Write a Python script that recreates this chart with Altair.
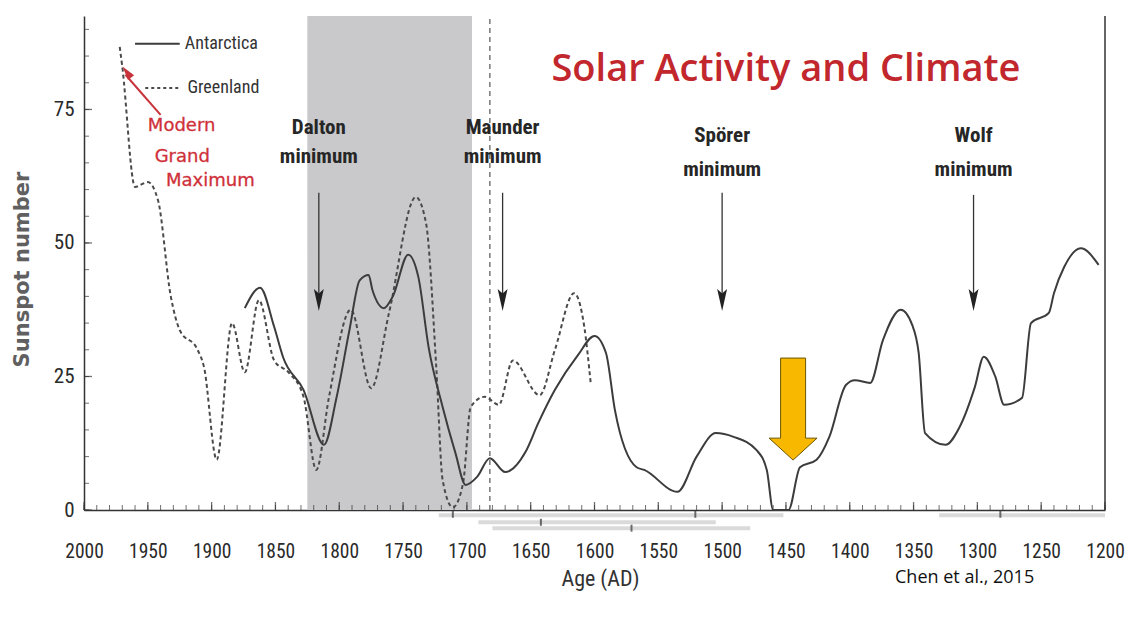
import altair as alt
import pandas as pd

# ---------------- data ----------------
ant_year = [1874, 1862, 1851, 1844, 1828, 1812, 1802, 1792, 1784, 1777, 1774, 1765, 1758, 1746, 1738,
            1730, 1719, 1709, 1701, 1692, 1682, 1670, 1654, 1644, 1631, 1613, 1600, 1591, 1584, 1567,
            1561, 1535, 1520, 1505, 1491, 1473, 1465, 1460, 1448, 1439, 1426, 1416, 1403, 1396, 1384,
            1374, 1360, 1351, 1346, 1341, 1325, 1314, 1302, 1295, 1286, 1279, 1265, 1258, 1244, 1240,
            1232, 1219, 1205]
ant_val = [37.8, 41.6, 34.3, 28.6, 22.5, 12.2, 21.2, 33.7, 43, 44, 41.2, 37.8, 40, 47.8, 43.6,
           30.5, 19.3, 10.7, 4.7, 6.2, 9.7, 7.1, 10.9, 16.3, 22.5, 29, 32.6, 29.4, 18.7, 8,
           7.5, 3.4, 10, 14.4, 13.7, 11.2, 7.5, 0, 0, 8, 9.4, 13.7, 23.4, 24.3, 23.8,
           31.8, 37.5, 34.6, 29.4, 14.4, 12.2, 15.5, 23, 28.7, 25, 19.7, 21, 35, 36.9, 40.6,
           45.5, 49, 45.9]

gr_year = [1972, 1970, 1960, 1950, 1942, 1932, 1925, 1911, 1906, 1896, 1884, 1874, 1863, 1851, 1839,
           1828, 1818, 1808, 1791, 1775, 1761, 1740, 1732, 1724, 1719, 1711, 1703, 1697, 1686, 1675,
           1664, 1643, 1631, 1616, 1608, 1603]
gr_val = [86.7, 83, 60.5, 61.4, 58, 40, 33.7, 30, 26.8, 9.4, 35, 25.8, 39.3, 28, 25.6,
          21.2, 7.5, 21.2, 37.5, 22.8, 36.9, 58.6, 53.7, 26.8, 5.6, 0.5, 5, 19.3, 21.2, 19.7,
          28, 21.5, 30, 40.6, 34.3, 23.8]

x_label_years = [1200, 1250, 1300, 1350, 1400, 1450, 1500, 1550, 1600, 1650, 1700, 1750, 1800,
                 1850, 1900, 1950, 2000]
y_label_vals = [0, 25, 50, 75]
x_minor_years = list(range(1200, 2001, 10))
y_minor_vals = list(range(0, 91, 5))

band_start = [1825]
band_end = [1696]
maunder_line_year = [1682]

min_year = [1816, 1672, 1500, 1303]
min_name = ["Dalton", "Maunder", "Spörer", "Wolf"]
min_name_y = [71.5, 71.5, 70.0, 70.0]
min_sub_y = [66.1, 66.1, 63.6, 63.6]
min_arrow_top = [59.4, 59.4, 59.4, 59.0]
min_arrow_head = [39.3, 39.3, 39.3, 39.3]

# age-uncertainty bars under the axis
unc_start = [1722, 1691, 1680, 1330]
unc_end = [1452, 1505, 1478, 1200]
unc_level = [-1.0, -2.3, -3.4, -1.0]
unc_tick_year = [1711, 1642, 1571, 1521, 1282]
unc_tick_level = [-0.8, -2.3, -3.4, -0.8, -0.8]

legend_names = ["Antarctica", "Greenland"]
legend_x0 = [1960, 1952]
legend_x1 = [1925, 1925]
legend_y = [87.3, 79.0]
legend_text_x = [1921, 1919]

modern_lines = ["Modern", "Grand", "Maximum"]
modern_x = [1923.5, 1923, 1901]
modern_y = [71.9, 66.1, 61.6]
modern_arrow = {"x": 1940, "y": 74.0, "x2": 1967.5, "y2": 81.5}
modern_head = {"x": 1966.5, "y": 82.0}

yellow_arrow = {"x": 1444.4, "y": 18.9}
title_pos = {"x": 1450, "y": 82.4}
credit_pos = {"x": 1310, "y": -12.7}

# ---------------- styling ----------------
NARROW = "Liberation Sans Narrow, Arial Narrow, Roboto Condensed, sans-serif"
W, H = 1021, 494
xs = alt.Scale(domain=[1200, 2000], reverse=True, nice=False, zero=False)
ys = alt.Scale(domain=[0, 92.5], nice=False, zero=False)

xaxis = alt.Axis(values=x_label_years, format="d", ticks=False, grid=False,
                 domainColor="#333333", domainWidth=1.5,
                 labelFont=NARROW, labelFontSize=19.5, labelColor="#2a2a2a",
                 labelPadding=32, labelFlush=False, labelOverlap=False,
                 title="Age (AD)", titleFont=NARROW, titleFontSize=22, titleFontWeight="normal",
                 titleColor="#333333", titleX=516, titleY=68, titleAlign="center",
                 titleBaseline="middle")
yaxis = alt.Axis(values=y_label_vals, ticks=False, grid=False,
                 domainColor="#333333", domainWidth=1.5,
                 labelFont=NARROW, labelFontSize=21, labelColor="#2a2a2a",
                 labelPadding=10, labelFlush=False,
                 title="Sunspot number", titleFont="DejaVu Sans", titleFontSize=21,
                 titleFontWeight="bold", titleColor="#606060", titleX=-62, titleY=253,
                 titleAngle=270, titleAlign="center", titleBaseline="middle")


def X(field):
    return alt.X(field, scale=xs, axis=xaxis)


def Y(field):
    return alt.Y(field, scale=ys, axis=yaxis)


band_df = pd.DataFrame({"start": band_start, "end": band_end, "lo": [0], "hi": [92.5]})
band = alt.Chart(band_df).mark_rect(color="#c9c9cb").encode(
    x=X("start:Q"), x2="end:Q", y=Y("lo:Q"), y2="hi:Q")

vline_df = pd.DataFrame({"year": maunder_line_year, "lo": [0], "hi": [92.5]})
vline = alt.Chart(vline_df).mark_rule(color="#777777", strokeDash=[5, 4], strokeWidth=1.5).encode(
    x=X("year:Q"), y=Y("lo:Q"), y2="hi:Q")

right_df = pd.DataFrame({"year": [1200], "lo": [0], "hi": [92.5]})
right_border = alt.Chart(right_df).mark_rule(color="#333333", strokeWidth=1.5).encode(
    x=X("year:Q"), y=Y("lo:Q"), y2="hi:Q")

xt_minor = alt.Chart(pd.DataFrame({"year": x_minor_years, "v": [0] * len(x_minor_years)})).mark_tick(
    orient="vertical", size=5, thickness=1, yOffset=-2.5, color="#333333").encode(
    x=X("year:Q"), y=Y("v:Q"))
xt_major = alt.Chart(pd.DataFrame({"year": x_label_years, "v": [0] * len(x_label_years)})).mark_tick(
    orient="vertical", size=8, thickness=1.3, yOffset=-4, color="#333333").encode(
    x=X("year:Q"), y=Y("v:Q"))
yt_minor = alt.Chart(pd.DataFrame({"v": y_minor_vals, "year": [2000] * len(y_minor_vals)})).mark_tick(
    orient="horizontal", size=5, thickness=1, xOffset=2.5, color="#333333").encode(
    x=X("year:Q"), y=Y("v:Q"))
yt_major = alt.Chart(pd.DataFrame({"v": y_label_vals, "year": [2000] * len(y_label_vals)})).mark_tick(
    orient="horizontal", size=8, thickness=1.3, xOffset=4, color="#333333").encode(
    x=X("year:Q"), y=Y("v:Q"))

unc_df = pd.DataFrame({"a": unc_start, "b": unc_end, "v": unc_level})
unc = alt.Chart(unc_df).mark_rule(color="#dadada", strokeWidth=4).encode(
    x=X("a:Q"), x2="b:Q", y=Y("v:Q"))
unc_t = alt.Chart(pd.DataFrame({"year": unc_tick_year, "v": unc_tick_level})).mark_tick(
    orient="vertical", size=7, thickness=2, color="#333333").encode(
    x=X("year:Q"), y=Y("v:Q"))

ant_df = pd.DataFrame({"year": ant_year, "v": ant_val})
ant = alt.Chart(ant_df).mark_line(interpolate="monotone", color="#3c3c3c", strokeWidth=2).encode(
    x=X("year:Q"), y=Y("v:Q"))
gr_df = pd.DataFrame({"year": gr_year, "v": gr_val})
gr = alt.Chart(gr_df).mark_line(interpolate="monotone", color="#4a4a4a", strokeWidth=2,
                                strokeDash=[4, 3]).encode(
    x=X("year:Q"), y=Y("v:Q"))

# legend
leg_df = pd.DataFrame({"name": legend_names, "x0": legend_x0, "x1": legend_x1, "y": legend_y,
                       "tx": legend_text_x})
leg_solid = alt.Chart(leg_df.iloc[[0]]).mark_rule(color="#3c3c3c", strokeWidth=2).encode(
    x=X("x0:Q"), x2="x1:Q", y=Y("y:Q"))
leg_dash = alt.Chart(leg_df.iloc[[1]]).mark_rule(color="#4a4a4a", strokeWidth=2,
                                                strokeDash=[3, 3]).encode(
    x=X("x0:Q"), x2="x1:Q", y=Y("y:Q"))
leg_text = alt.Chart(leg_df).mark_text(align="left", baseline="middle", font=NARROW, fontSize=18,
                                       color="#333333").encode(
    x=X("tx:Q"), y=Y("y:Q"), text="name:N")

# minimum annotations
min_df = pd.DataFrame({"year": min_year, "name": min_name, "ny": min_name_y, "sy": min_sub_y,
                       "top": min_arrow_top, "head": min_arrow_head, "sub": ["minimum"] * 4})
min_t1 = alt.Chart(min_df).mark_text(font=NARROW, fontSize=21, fontWeight="bold", color="#262626",
                                     baseline="middle").encode(
    x=X("year:Q"), y=Y("ny:Q"), text="name:N")
min_t2 = alt.Chart(min_df).mark_text(font=NARROW, fontSize=21, fontWeight="bold", color="#262626",
                                     baseline="middle").encode(
    x=X("year:Q"), y=Y("sy:Q"), text="sub:N")
min_arrow = alt.Chart(min_df).mark_rule(color="#333333", strokeWidth=1.3).encode(
    x=X("year:Q"), y=Y("top:Q"), y2="head:Q")
min_head = alt.Chart(min_df).mark_point(shape="M0,1L-0.45,-1L0,-0.6L0.45,-1Z", size=484,
                                        filled=True, color="#222222", opacity=1).encode(
    x=X("year:Q"), y=Y("head:Q"))

# Modern Grand Maximum
mod_df = pd.DataFrame({"t": modern_lines, "x": modern_x, "y": modern_y})
mod_text = alt.Chart(mod_df).mark_text(font="DejaVu Sans", fontSize=18, color="#cf3039",
                                       baseline="middle", stroke="#cf3039", strokeWidth=0.3).encode(
    x=X("x:Q"), y=Y("y:Q"), text="t:N")
mod_arrow = alt.Chart(pd.DataFrame([modern_arrow])).mark_rule(color="#c8323a", strokeWidth=2).encode(
    x=X("x:Q"), x2="x2:Q", y=Y("y:Q"), y2="y2:Q")
mod_head = alt.Chart(pd.DataFrame([modern_head])).mark_point(
    shape="M0,-1L-0.55,1L0.55,1Z", size=196, angle=322, filled=True, color="#c8323a",
    opacity=1).encode(
    x=X("x:Q"), y=Y("y:Q"))

# yellow block arrow
yel = alt.Chart(pd.DataFrame([yellow_arrow])).mark_point(
    shape="M-0.245,-1L0.245,-1L0.245,0.57L0.47,0.57L0,1L-0.47,0.57L-0.245,0.57Z",
    size=10404, filled=True, fill="#f9b800", stroke="#6b5600", strokeWidth=1, opacity=1).encode(
    x=X("x:Q"), y=Y("y:Q"))

# titles
title_df = pd.DataFrame([{**title_pos, "t": "Solar Activity and Climate"}])
title = alt.Chart(title_df).mark_text(font="Open Sans", fontSize=38, fontWeight=600,
                                      color="#c1272d", baseline="middle").encode(
    x=X("x:Q"), y=Y("y:Q"), text="t:N")
credit_df = pd.DataFrame([{**credit_pos, "t": "Chen et al., 2015"}])
credit = alt.Chart(credit_df).mark_text(font="Open Sans", fontSize=18, fontWeight=500,
                                        color="#111111", baseline="middle").encode(
    x=X("x:Q"), y=Y("y:Q"), text="t:N")

chart = alt.layer(
    band, vline, unc, unc_t, right_border, xt_minor, xt_major, yt_minor, yt_major,
    gr, ant, leg_solid, leg_dash, leg_text, min_t1, min_t2, min_arrow, min_head,
    mod_text, mod_arrow, mod_head, yel, title, credit
).properties(
    width=W, height=H, background="white",
    padding={"left": 76, "top": 8, "right": 20, "bottom": 100},
    autosize=alt.AutoSizeParams(type="none"),
).configure_view(stroke=None)

chart.save("out.html", embed_options={"renderer": "svg", "actions": False})
